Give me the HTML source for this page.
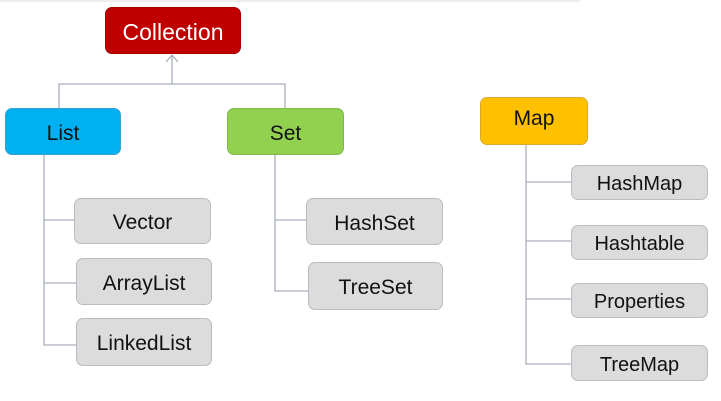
<!DOCTYPE html>
<html><head><style>
body{margin:0;width:721px;height:401px;background:#fff;position:relative;overflow:hidden;font-family:"Liberation Sans",sans-serif}
.b{position:absolute;box-sizing:border-box;border-radius:7px;display:flex;align-items:center;justify-content:center;font-size:21px;color:#111;padding-top:4px}
.g{background:#dcdcdc;border:1px solid #b8bcc4}
</style></head><body>
<svg width="721" height="401" style="position:absolute;left:0;top:0" fill="none" stroke="#a9b0ba" stroke-width="1.3">
<line x1="0" y1="1" x2="580" y2="1" stroke="#e4e4e4"/>
<path d="M172 55V84M59 108V84H285V108"/>
<path d="M166 62L172 55L178 62"/>
<path d="M44 155V345H76M44 220H74M44 283H76"/>
<path d="M275 155V291H308M275 220H306"/>
<path d="M526 145V364H571M526 182H571M526 241H571M526 299H571"/>
</svg>
<div class="b" style="left:105px;top:7px;width:136px;height:47px;background:#c00000;color:#fff;font-size:23px;border:1px solid #a00">Collection</div>
<div class="b" style="left:5px;top:108px;width:116px;height:47px;background:#00b0f0;border:1px solid #3aa0d0">List</div>
<div class="b" style="left:227px;top:108px;width:117px;height:47px;background:#92d050;border:1px solid #80b848">Set</div>
<div class="b" style="left:480px;top:97px;width:108px;height:48px;background:#ffc000;border:1px solid #d8a830;padding-top:0;padding-bottom:4px">Map</div>
<div class="b g" style="left:74px;top:198px;width:137px;height:46px">Vector</div>
<div class="b g" style="left:76px;top:258px;width:136px;height:47px">ArrayList</div>
<div class="b g" style="left:76px;top:318px;width:136px;height:48px">LinkedList</div>
<div class="b g" style="left:306px;top:198px;width:137px;height:47px">HashSet</div>
<div class="b g" style="left:308px;top:262px;width:135px;height:48px">TreeSet</div>
<div class="b g" style="left:571px;top:165px;width:137px;height:35px;font-size:20px">HashMap</div>
<div class="b g" style="left:571px;top:225px;width:137px;height:35px;font-size:20px">Hashtable</div>
<div class="b g" style="left:571px;top:283px;width:137px;height:35px;font-size:20px">Properties</div>
<div class="b g" style="left:571px;top:345px;width:137px;height:36px;font-size:20px">TreeMap</div>
</body></html>
